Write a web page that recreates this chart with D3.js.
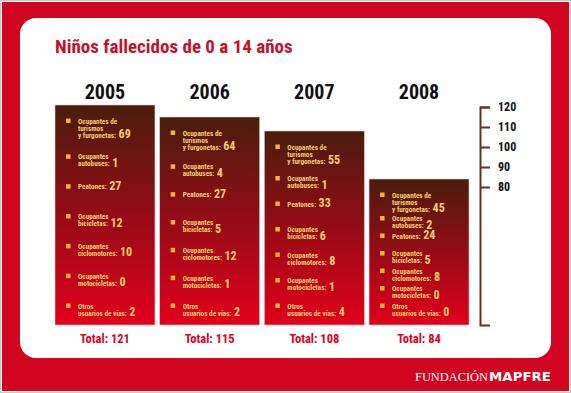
<!DOCTYPE html>
<html><head><meta charset="utf-8">
<script src="https://cdn.jsdelivr.net/npm/d3@7"></script>
<style>html,body{margin:0;padding:0;background:#fff}svg{display:block}</style>
</head><body>
<svg id="c" width="571" height="393"></svg>
<script>
const years = ["2005","2006","2007","2008"];
const totals = [121,115,108,84];
const catLines = [
  ["Ocupantes de","turismos","y furgonetas:"],
  ["Ocupantes","autobuses:"],
  ["Peatones:"],
  ["Ocupantes","bicicletas:"],
  ["Ocupantes","ciclomotores:"],
  ["Ocupantes","motocicletas:"],
  ["Otros","usuarios de vías:"]
];
const turismos     = [69,64,55,45];
const autobuses    = [1,4,1,2];
const peatones     = [27,27,33,24];
const bicicletas   = [12,5,6,5];
const ciclomotores = [10,12,8,8];
const motocicletas = [0,1,1,0];
const otros        = [2,2,4,0];
const axisTicks = [80,90,100,110,120];
const title = "Niños fallecidos de 0 a 14 años";

const series = [turismos,autobuses,peatones,bicicletas,ciclomotores,motocicletas,otros];
const FONT = "'Liberation Sans Narrow','Roboto Condensed','DejaVu Sans Condensed',sans-serif";

const svg = d3.select("#c");
const defs = svg.append("defs");
const grad = defs.append("linearGradient").attr("id","bg").attr("x1",0).attr("x2",0).attr("y1",0).attr("y2",1);
grad.append("stop").attr("offset","0%").attr("stop-color","#4a1d0d");
grad.append("stop").attr("offset","45%").attr("stop-color","#8e0d16");
grad.append("stop").attr("offset","100%").attr("stop-color","#e2001c");

// frame
svg.append("rect").attr("x",0.5).attr("y",0.5).attr("width",570).attr("height",392).attr("fill","#fff").attr("stroke","#c8c8c8");
svg.append("rect").attr("x",2).attr("y",2).attr("width",567).attr("height",389).attr("fill","#d20520");
svg.append("rect").attr("x",20).attr("y",18).attr("width",531).attr("height",340).attr("rx",16).attr("fill","#fff");

svg.append("text").attr("x",55).attr("y",53).attr("fill","#c5102c")
  .style("font-family",FONT).style("font-weight","bold").style("font-size","19px").text(title);

const x = d3.scaleBand().domain(years).range([55,469]).paddingInner(0.045).paddingOuter(0);
const y = d3.scaleLinear().domain([11,120]).range([325,107]);
const base = y(11);

// year labels
svg.selectAll("text.year").data(years).join("text").attr("class","year")
  .attr("x",d=>x(d)+x.bandwidth()/2).attr("y",99).attr("text-anchor","middle")
  .attr("fill","#111").style("font-family",FONT).style("font-weight","bold").style("font-size","20px")
  .text(d=>d);

// bars
years.forEach((yr,j)=>{
  const bx = x(yr), top = y(totals[j]), bw = x.bandwidth();
  const g = svg.append("g");
  g.append("rect").attr("x",bx).attr("y",top).attr("width",bw).attr("height",base-top)
    .attr("fill","url(#bg)").attr("stroke","#d9c9c9").attr("stroke-width",0.6);
  const y0 = top + 16, yL = base - 19, e = 6;
  const gap = (yL - y0 - e)/6;
  catLines.forEach((lines,i)=>{
    const cy = y0 + i*gap + (i>0?e:0);
    g.append("rect").attr("x",bx+11).attr("y",cy-2.5).attr("width",4.5).attr("height",4.5).attr("fill","#f5b335");
    const t = g.append("text").attr("x",bx+23).attr("y",cy+2.5)
      .attr("fill","#f6cf6a").style("font-family",FONT).style("font-weight","bold").style("font-size","7.2px");
    lines.forEach((ln,k)=>{
      t.append("tspan").attr("x",bx+23).attr("dy",k===0?0:7).text(ln);
    });
    t.append("tspan").attr("dx",2.5).attr("dy",0.5).style("font-size","12px").text(series[i][j]);
  });
  svg.append("text").attr("x",bx+bw/2).attr("y",343).attr("text-anchor","middle")
    .attr("fill","#e0001f").style("font-family",FONT).style("font-weight","bold").style("font-size","12.5px")
    .text("Total: "+totals[j]);
});

// axis
const ax = svg.append("g").attr("transform","translate(480,0)")
  .call(d3.axisRight(y).tickValues(axisTicks).tickSize(10).tickSizeOuter(10).tickPadding(8));
ax.select(".domain").attr("stroke","#6b2f22").attr("stroke-width",2);
ax.selectAll(".tick line").attr("stroke","#6b2f22").attr("stroke-width",2);
ax.selectAll(".tick text").attr("fill","#111").style("font-family",FONT).style("font-weight","bold").style("font-size","12px");

// footer
svg.append("text").attr("x",415).attr("y",381).attr("fill","#fff")
  .attr("textLength",73).attr("lengthAdjust","spacingAndGlyphs")
  .style("font-family","'Liberation Serif',serif").style("font-size","13px").text("FUNDACIÓN");
svg.append("text").attr("x",489).attr("y",381).attr("fill","#fff")
  .attr("textLength",62).attr("lengthAdjust","spacingAndGlyphs")
  .style("font-family","'DejaVu Sans',sans-serif").style("font-weight","900").style("font-size","12px").text("MAPFRE");
</script>
</body></html>
